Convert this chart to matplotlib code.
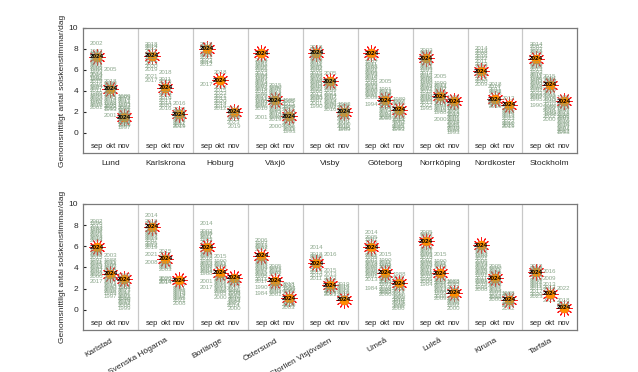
import matplotlib
matplotlib.use("Agg")
import matplotlib.pyplot as plt

plt.rcParams['font.family'] = ['Liberation Sans', 'DejaVu Sans']

months = ['sep', 'okt', 'nov']

stations_top = ['Lund', 'Karlskrona', 'Hoburg', 'Växjö', 'Visby', 'Göteborg',
                'Norrköping', 'Nordkoster', 'Stockholm']
stations_bottom = ['Karlstad', 'Svenska Högarna', 'Borlänge', 'Östersund',
                   'Storlien Visjövalen', 'Umeå', 'Luleå', 'Kiruna', 'Tarfala']

# 2024 (sep, okt, nov) per station
y2024_top = [(7.27, 4.2, 1.5), (7.36, 4.3, 1.8), (8.0, 5.0, 2.0), (7.6, 3.1, 1.6),
             (7.65, 4.9, 2.0), (7.6, 3.1, 2.2), (7.1, 3.5, 3.0), (5.85, 3.2, 2.7),
             (7.05, 4.6, 3.0)]
y2024_bottom = [(5.9, 3.4, 2.9), (7.85, 4.8, 2.8), (5.9, 3.5, 3.05), (5.1, 2.75, 1.1),
                (4.4, 2.3, 0.95), (5.9, 3.5, 2.5), (6.45, 3.45, 1.6), (6.1, 3.0, 0.95),
                (3.55, 1.5, 0.2)]

# earlier years: (year, hours/day), read/estimated from the dense label columns
lund_sep = [(2002, 8.5), (1997, 7.8), (1983, 7.6), (2018, 7.45), (1987, 7.2), (2013, 7.0), (2004, 6.8), (1991, 6.6),
            (2021, 6.4), (2006, 6.2), (1984, 6.0), (1999, 5.85), (2014, 5.6), (2009, 5.45), (1992, 5.2), (1986, 5.05),
            (2019, 4.85), (2016, 4.65), (1994, 4.4), (2007, 4.2), (2011, 4.0), (1989, 3.8), (1988, 3.6), (2023, 3.4),
            (2020, 3.2), (1985, 3.0), (1996, 2.8), (2010, 2.6), (2001, 2.4)]
lund_okt = [(2005, 6.0), (2018, 4.9), (1990, 4.75), (2012, 4.55), (1984, 4.4), (2003, 4.25), (1995, 4.05), (2021, 3.9),
            (2007, 3.7), (1992, 3.55), (1985, 3.35), (2014, 3.2), (2016, 3.0), (1988, 2.85), (1998, 2.65), (2022, 2.5),
            (2010, 2.35), (1993, 2.2), (2001, 1.7)]
lund_nov = [(1989, 3.5), (2005, 3.35), (2014, 3.15), (2011, 2.95), (1984, 2.8), (1993, 2.6), (2002, 2.45), (2016, 2.3),
            (1991, 2.1), (1998, 1.95), (2021, 1.8), (2020, 1.65), (2007, 1.45), (1986, 1.3), (2013, 1.1), (2008, 1.0),
            (1995, 0.85), (1999, 0.7), (1997, 0.5)]

ksk_sep = [(2018, 8.4), (2014, 8.2), (2012, 8.0), (2011, 7.75), (2023, 7.5), (2015, 7.2), (2022, 6.9), (2013, 6.6),
           (2020, 6.3), (2019, 6.0), (2021, 5.4), (2017, 4.95)]
ksk_okt = [(2018, 5.75), (2011, 5.1), (2015, 4.85), (2012, 4.6), (2022, 4.0), (2023, 3.8), (2013, 3.55), (2019, 3.3),
           (2017, 3.05), (2014, 2.8), (2020, 2.6), (2016, 2.35)]
ksk_nov = [(2016, 2.85), (2022, 2.25), (2012, 2.05), (2013, 1.85), (2023, 1.6), (2020, 1.45), (2017, 1.25), (2014, 1.1),
           (2011, 0.9), (2021, 0.75), (2019, 0.6)]

hob_sep = [(2018, 8.45), (2013, 8.25), (2020, 8.05), (2015, 7.6), (2023, 7.4), (2021, 7.15), (2022, 6.9), (2014, 6.7),
           (2012, 6.5), (2017, 4.6)]
hob_okt = [(2018, 5.75), (2019, 4.3), (2015, 4.0), (2023, 3.8), (2021, 3.5), (2013, 3.25), (2020, 3.0), (2014, 2.8),
           (2016, 2.55), (2012, 2.3)]
hob_nov = [(2014, 2.3), (2022, 1.9), (2021, 1.7), (2016, 1.45), (2013, 1.25), (2023, 1.0), (2019, 0.65)]

vax_sep = [(2018, 6.9), (1997, 6.7), (1983, 6.5), (2006, 6.3), (2021, 6.1), (1989, 5.9), (2013, 5.7), (2004, 5.5),
           (1995, 5.3), (1987, 5.1), (2003, 4.9), (2014, 4.7), (2009, 4.5), (1992, 4.3), (2019, 4.1), (2016, 3.9),
           (1986, 3.7), (2023, 3.5), (2011, 3.3), (1984, 3.1), (1999, 2.9), (2007, 2.7), (1990, 2.5), (2010, 2.3),
           (2001, 1.5)]
vax_okt = [(2015, 4.5), (1990, 4.35), (2005, 4.15), (2021, 3.95), (2012, 3.75), (1984, 3.6), (1996, 3.4), (2018, 3.2),
           (1987, 3.0), (2003, 2.8), (2008, 2.6), (1993, 2.45), (2022, 2.25), (1985, 2.05), (2014, 1.85), (2010, 1.65),
           (1998, 1.45), (2019, 1.25), (2000, 0.6)]
vax_nov = [(1988, 3.1), (2005, 2.95), (2013, 2.75), (1994, 2.55), (2021, 2.4), (2017, 2.2), (1984, 2.0), (1999, 1.85),
           (2009, 1.65), (2015, 1.45), (1991, 1.3), (1985, 1.1), (2020, 0.9), (2002, 0.75), (1996, 0.55), (2011, 0.35),
           (1993, 0.1)]

vis_sep = [(2018, 8.15), (2013, 7.95), (1983, 7.7), (2006, 7.5), (1997, 7.3), (2021, 7.1), (1989, 6.9), (2016, 6.7),
           (2011, 6.5), (1995, 6.3), (2002, 6.1), (1986, 5.9), (2015, 5.7), (2008, 5.5), (1992, 5.3), (2019, 5.1),
           (2009, 4.9), (1985, 4.7), (2004, 4.5), (1998, 4.3), (2022, 4.1), (1988, 3.9), (2012, 3.7), (1994, 3.5),
           (2000, 3.3), (1987, 3.1), (2001, 2.8), (1990, 2.5)]
vis_okt = [(2005, 5.7), (1994, 5.0), (2011, 4.8), (1987, 4.6), (2018, 4.4), (2003, 4.2), (1999, 4.0), (2021, 3.8),
           (1984, 3.6), (2007, 3.4), (1990, 3.2), (2014, 3.0), (1996, 2.8), (2009, 2.6), (1992, 2.4), (2016, 2.2)]
vis_nov = [(1993, 2.75), (2008, 2.6), (2016, 2.4), (1985, 2.25), (2021, 2.05), (1986, 1.9), (2001, 1.7), (2012, 1.55),
           (2004, 1.35), (1997, 1.2), (2019, 1.0), (1990, 0.85), (2010, 0.65), (1995, 0.45), (1989, 0.3)]

got_sep = [(2003, 6.95), (1997, 6.75), (2011, 6.55), (1983, 6.35), (1989, 6.15), (2021, 5.95), (2006, 5.75), (1993, 5.55),
           (2018, 5.35), (2015, 5.15), (1986, 4.95), (2008, 4.75), (1999, 4.55), (2013, 4.35), (1988, 4.15), (2000, 3.95),
           (2016, 3.75), (1991, 3.55), (2009, 3.35), (1994, 2.75)]
got_okt = [(2005, 4.9), (1991, 4.15), (2012, 3.95), (1984, 3.8), (1998, 3.6), (2021, 3.4), (2017, 2.9), (1987, 2.75),
           (2009, 2.55), (1993, 2.4), (1995, 2.2), (2014, 2.05), (2003, 1.85), (1989, 1.7), (2019, 1.5), (2000, 1.35)]
got_nov = [(1989, 3.2), (2007, 3.0), (1995, 2.8), (2021, 2.65), (2014, 2.0), (1986, 1.85), (2001, 1.65), (1998, 1.5),
           (2019, 1.3), (1984, 1.15), (1992, 0.95), (2016, 0.8), (2005, 0.6), (2010, 0.45), (1993, 0.35)]

nkp_sep = [(2003, 7.85), (1997, 7.65), (2018, 7.45), (2011, 6.9), (1983, 6.7), (1989, 6.5), (2021, 6.3), (2006, 6.1),
           (1993, 5.9), (2014, 5.7), (2015, 5.5), (1986, 5.3), (2008, 5.1), (1999, 4.9), (1990, 4.7), (2016, 4.5),
           (2004, 4.3), (1991, 4.1), (2019, 3.9), (1985, 3.7), (2009, 3.5), (2000, 3.3), (1988, 3.1), (2013, 2.9),
           (2022, 2.65), (1995, 2.35)]
nkp_okt = [(2005, 5.4), (1990, 4.7), (2012, 4.55), (1984, 4.35), (1997, 4.15), (2021, 3.95), (2003, 3.75), (2018, 3.2),
           (1986, 3.05), (2009, 2.85), (1993, 2.7), (1994, 2.5), (2016, 2.3), (2015, 2.15), (1988, 1.95), (2000, 1.24)]
nkp_nov = [(1989, 3.4), (2004, 2.65), (2013, 2.5), (1984, 2.35), (1996, 2.15), (2021, 2.0), (2018, 1.8), (1987, 1.65),
           (2008, 1.45), (2001, 1.3), (1992, 1.1), (2019, 0.95), (1985, 0.75), (2016, 0.6), (2010, 0.4), (1998, 0.25),
           (1993, 0.05)]

nko_sep = [(2014, 8.0), (2018, 7.8), (2008, 7.55), (2016, 7.3), (2022, 7.05), (2011, 6.8), (2013, 6.55), (2023, 6.3),
           (2010, 5.6), (2012, 5.35), (2015, 5.1), (2020, 4.85), (2009, 4.6)]
nko_okt = [(2018, 4.6), (2014, 4.4), (2011, 4.15), (2022, 3.95), (2008, 3.75), (2023, 2.95), (2013, 2.8), (2021, 2.65),
           (2016, 2.5)]
nko_nov = [(2012, 3.3), (2017, 2.35), (2020, 2.15), (2008, 1.95), (2015, 1.75), (2013, 1.55), (2023, 1.35), (2022, 1.1),
           (2010, 0.9), (2021, 0.75), (2019, 0.6)]

sto_sep = [(2014, 8.4), (2002, 8.2), (1997, 7.95), (2018, 7.75), (1983, 7.55), (2021, 6.6), (1989, 6.4), (2006, 6.2),
           (2013, 6.0), (1993, 5.8), (2016, 5.6), (2011, 5.4), (1986, 5.2), (1985, 5.0), (2004, 4.8), (1999, 4.6),
           (2019, 4.4), (2009, 4.2), (1992, 4.0), (2022, 3.8), (1988, 3.6), (2007, 3.4), (1995, 3.2), (1990, 2.6)]
sto_okt = [(2015, 5.4), (1991, 5.2), (2005, 5.0), (1984, 4.85), (2012, 4.15), (1997, 3.95), (2021, 3.75), (2003, 3.55),
           (1986, 3.35), (2018, 3.15), (1994, 2.95), (2010, 2.75), (1989, 2.55), (2009, 2.35), (2016, 2.15), (1993, 1.95),
           (1988, 1.75), (2022, 1.55), (2000, 1.24)]
sto_nov = [(1989, 3.4), (2006, 2.65), (2013, 2.5), (1984, 2.3), (1995, 2.15), (2021, 1.95), (2018, 1.8), (1986, 1.6),
           (2001, 1.45), (1992, 1.25), (2010, 1.05), (1998, 0.9), (2016, 0.7), (1987, 0.5), (2004, 0.3), (2012, 0.1),
           (1993, 0.0)]

kst_sep = [(2002, 8.3), (1996, 8.1), (2013, 7.9), (1983, 7.7), (1989, 7.5), (2006, 7.3), (2021, 7.1), (1993, 6.9),
           (2018, 6.7), (2004, 6.5), (1986, 5.5), (2009, 5.3), (1999, 5.1), (2015, 4.9), (1991, 4.7), (2011, 4.5),
           (1985, 4.3), (2019, 4.1), (1994, 3.9), (2007, 3.7), (1988, 3.5), (2022, 3.3), (2000, 3.1), (2017, 2.7)]
kst_okt = [(2003, 5.15), (1988, 4.7), (2011, 4.5), (1984, 4.3), (1995, 4.1), (2021, 3.9), (2006, 3.7), (2018, 3.05),
           (1985, 2.9), (2007, 2.7), (1992, 2.5), (2014, 2.3), (1990, 2.1), (2000, 1.9), (2016, 1.7), (1989, 1.5),
           (1997, 1.25)]
kst_nov = [(1989, 3.2), (2005, 2.5), (2013, 2.35), (1984, 2.15), (1994, 2.0), (2021, 1.8), (2017, 1.65), (1986, 1.45),
           (2001, 1.3), (2010, 1.1), (1996, 0.95), (2019, 0.75), (1992, 0.6), (2008, 0.4), (1999, 0.15)]

svh_sep = [(2014, 8.9), (2018, 8.3), (2016, 8.1), (2011, 7.5), (2022, 7.3), (2003, 7.1), (2002, 6.9), (2013, 6.7),
           (2007, 6.5), (2005, 6.3), (2012, 6.1), (2019, 5.85), (2021, 5.2), (2008, 4.46)]
svh_okt = [(2015, 5.5), (2011, 5.25), (2018, 4.35), (2005, 4.15), (2013, 3.95), (2003, 3.8), (2020, 3.0), (2022, 2.85),
           (2016, 2.7), (2014, 2.55)]
svh_nov = [(2017, 2.2), (2011, 2.0), (2003, 1.8), (2015, 1.65), (2019, 1.45), (2012, 1.3), (2005, 1.1), (2021, 0.9),
           (2008, 0.6)]

bor_sep = [(2014, 8.1), (2002, 7.4), (2008, 7.2), (1997, 7.0), (2011, 6.8), (1983, 6.6), (2021, 6.4), (1989, 5.4),
           (2006, 5.2), (1993, 5.0), (2018, 4.8), (1986, 4.6), (2013, 4.4), (2009, 4.2), (1999, 4.0), (1991, 3.8),
           (2004, 3.6), (1988, 3.4), (2001, 2.7), (2017, 2.1)]
bor_okt = [(2015, 5.0), (1990, 4.55), (2011, 4.35), (1984, 4.15), (2003, 3.95), (1996, 3.0), (2005, 2.85), (1987, 2.65),
           (2018, 2.45), (2021, 2.3), (1993, 2.1), (2012, 1.95), (2009, 1.75), (1985, 1.55), (2000, 1.15)]
bor_nov = [(1988, 2.7), (2013, 2.55), (1995, 2.35), (2021, 2.2), (2017, 2.0), (1986, 1.85), (2006, 1.65), (1998, 1.5),
           (1992, 1.3), (2010, 1.15), (2019, 0.95), (1984, 0.8), (2003, 0.6), (2014, 0.4), (2000, 0.15)]

ost_sep = [(2006, 6.5), (1997, 6.3), (2013, 6.1), (1983, 5.9), (2021, 5.7), (1989, 4.7), (2018, 4.5), (1993, 4.3),
           (2003, 4.1), (2009, 3.9), (1987, 3.7), (2015, 3.5), (2002, 3.3), (1995, 3.1), (2011, 2.9), (2017, 2.65),
           (1990, 2.1), (1984, 1.5)]
ost_okt = [(2005, 4.1), (1991, 3.9), (2012, 3.7), (1985, 3.5), (2021, 3.3), (1998, 2.35), (2016, 2.2), (1987, 2.0),
           (2009, 1.85), (1994, 1.65), (2001, 1.4)]
ost_nov = [(2018, 2.4), (2011, 2.25), (1994, 2.05), (2006, 1.9), (1988, 1.7), (2021, 1.55), (1987, 0.7), (2014, 0.55),
           (1999, 0.4), (2003, 0.2)]

stv_sep = [(2014, 5.9), (2018, 5.2), (2010, 5.0), (2020, 4.8), (2022, 3.95), (2016, 3.75), (2013, 3.5), (2019, 3.25),
           (2011, 3.0)]
stv_okt = [(2016, 5.25), (2015, 3.7), (2013, 3.35), (2022, 3.0), (2012, 2.75), (2018, 2.0), (2011, 1.85), (2020, 1.7),
           (2014, 1.55), (2021, 1.4)]
stv_nov = [(2019, 2.35), (2016, 2.2), (2012, 2.0), (2022, 1.8), (2018, 1.6), (2010, 1.4), (2021, 1.2)]

ume_sep = [(2014, 7.3), (2005, 6.8), (1997, 6.6), (1983, 6.4), (2021, 5.3), (2011, 5.1), (1989, 4.9), (2002, 4.7),
           (1993, 4.5), (2018, 4.3), (2008, 4.1), (1986, 3.9), (2016, 3.7), (1999, 3.5), (2009, 3.3), (1991, 3.1),
           (2013, 2.9), (1984, 2.0)]
ume_okt = [(2015, 5.25), (1990, 4.7), (2011, 4.5), (1985, 4.3), (1996, 4.1), (2021, 3.95), (2005, 3.05), (1987, 2.9),
           (2018, 2.7), (2003, 2.55), (1993, 2.35), (2016, 2.15), (2008, 1.95), (1988, 1.75), (2012, 1.6), (2000, 1.4)]
ume_nov = [(1988, 3.3), (2005, 3.0), (2013, 2.05), (1995, 1.9), (2021, 1.7), (2017, 1.55), (1986, 1.35), (2001, 1.2),
           (1992, 1.0), (2010, 0.85), (2019, 0.65), (1998, 0.5), (2006, 0.3), (2000, 0.15)]

lul_sep = [(2005, 7.3), (1997, 7.1), (2013, 6.9), (1983, 5.9), (1989, 5.7), (2021, 5.5), (2006, 5.3), (1993, 5.1),
           (2018, 4.9), (2002, 4.7), (1986, 4.5), (2015, 4.3), (2009, 4.1), (1991, 3.9), (2011, 3.7), (2001, 3.5),
           (1988, 3.3), (2019, 3.1), (1995, 2.9), (2008, 2.65), (1984, 2.4)]
lul_okt = [(2015, 5.2), (1990, 4.55), (2011, 4.35), (1985, 4.15), (2003, 3.95), (1996, 2.95), (2005, 2.8), (1987, 2.6),
           (2018, 2.45), (2021, 2.25), (1993, 2.1), (2012, 1.9), (1984, 1.7), (1999, 1.5), (2008, 1.3), (2009, 1.05)]
lul_nov = [(1988, 2.7), (2013, 2.55), (1995, 2.35), (2021, 2.15), (2005, 1.95), (2017, 1.1), (1986, 0.95), (2010, 0.8),
           (2006, 0.6), (1992, 0.4), (2000, 0.15)]

kir_sep = [(2005, 5.8), (1997, 5.6), (2013, 5.4), (1983, 5.2), (1989, 5.0), (2021, 4.8), (2006, 4.6), (1993, 4.4),
           (2018, 4.2), (2002, 4.0), (1986, 3.8), (2015, 3.6), (2009, 3.4), (1991, 3.2), (2011, 3.0), (2001, 2.8),
           (1988, 2.6), (2019, 2.4), (1995, 2.15), (2008, 1.9)]
kir_okt = [(2005, 4.1), (1990, 3.9), (2011, 3.7), (1985, 3.5), (2021, 3.35), (1996, 2.6), (2018, 2.45), (2003, 2.25),
           (1987, 2.1), (2015, 1.9), (2008, 1.7), (1993, 1.5), (2012, 1.3), (1999, 1.15), (2000, 0.95)]
kir_nov = [(1988, 1.55), (2013, 1.4), (2021, 1.25), (1995, 0.7), (2006, 0.55), (2017, 0.4), (2002, 0.15)]

tar_sep = [(2012, 4.1), (2018, 3.9), (2022, 3.75), (2014, 3.2), (2010, 3.0), (2019, 2.8), (2021, 2.6), (2015, 2.4),
           (2011, 2.2), (2013, 2.0), (2017, 1.7), (2020, 1.45), (2023, 1.25)]
tar_okt = [(2016, 3.6), (2009, 3.0), (2013, 2.35), (2012, 2.15), (2018, 1.95), (2021, 0.85)]
tar_nov = [(2022, 2.0), (2018, 0.85), (2014, 0.6), (2011, 0.4)]

hist_top = [(lund_sep, lund_okt, lund_nov), (ksk_sep, ksk_okt, ksk_nov), (hob_sep, hob_okt, hob_nov),
            (vax_sep, vax_okt, vax_nov), (vis_sep, vis_okt, vis_nov), (got_sep, got_okt, got_nov),
            (nkp_sep, nkp_okt, nkp_nov), (nko_sep, nko_okt, nko_nov), (sto_sep, sto_okt, sto_nov)]
hist_bottom = [(kst_sep, kst_okt, kst_nov), (svh_sep, svh_okt, svh_nov), (bor_sep, bor_okt, bor_nov),
               (ost_sep, ost_okt, ost_nov), (stv_sep, stv_okt, stv_nov), (ume_sep, ume_okt, ume_nov),
               (lul_sep, lul_okt, lul_nov), (kir_sep, kir_okt, kir_nov), (tar_sep, tar_okt, tar_nov)]

YEAR_COLOR = '#819f81'
AX_COLOR = '#262626'


def draw_row(ax, stations, hist, y2024, rotate):
    n = len(stations)
    for i in range(n):
        for m in range(3):
            x = 4 * i + m + 1
            for year, val in hist[i][m]:
                ax.text(x, val, str(year), color=YEAR_COLOR, fontsize=4.4,
                        ha='center', va='center', alpha=0.9)
            v = y2024[i][m]
            # sun-like marker for 2024: red rays, orange disk, black year
            ax.plot(x, v, marker=(12, 2, 0), markersize=11.5, markeredgecolor='#ff1a1a',
                    markeredgewidth=0.7, linestyle='none')
            ax.plot(x, v, marker='o', markersize=6.8, markerfacecolor='#ff8c00',
                    markeredgecolor='none', linestyle='none')
            ax.text(x, v, '2024', color='black', fontsize=4.6, fontweight='bold',
                    ha='center', va='center')
            ax.text(x, -1.25, months[m], color=AX_COLOR, fontsize=5.5,
                    ha='center', va='center')
        if i > 0:
            ax.axvline(4 * i, color='#c8c8c8', lw=0.9, zorder=0)

    ax.set_xlim(0, 4 * n)
    ax.set_ylim(-1.9, 10)
    ax.set_yticks([0, 2, 4, 6, 8, 10])
    ax.set_xticks([4 * i + 2 for i in range(n)])
    if rotate:
        ax.set_xticklabels(stations, rotation=30, ha='right', rotation_mode='anchor')
    else:
        ax.set_xticklabels(stations)
    ax.tick_params(axis='x', length=0, labelsize=6, colors=AX_COLOR, pad=5)
    ax.tick_params(axis='y', length=2, direction='in', labelsize=6, colors=AX_COLOR)
    for s in ax.spines.values():
        s.set_color('#7a7a7a')
        s.set_linewidth(0.9)
    ax.set_ylabel('Genomsnittligt antal solskenstimmar/dag', fontsize=6, color=AX_COLOR, labelpad=2)


fig = plt.figure(figsize=(6.38, 3.72), dpi=100)
ax_top = fig.add_axes([0.13, 0.589, 0.775, 0.336])
ax_bot = fig.add_axes([0.13, 0.113, 0.775, 0.339])

draw_row(ax_top, stations_top, hist_top, y2024_top, False)
draw_row(ax_bot, stations_bottom, hist_bottom, y2024_bottom, True)

fig.savefig('out.png', dpi=100)
